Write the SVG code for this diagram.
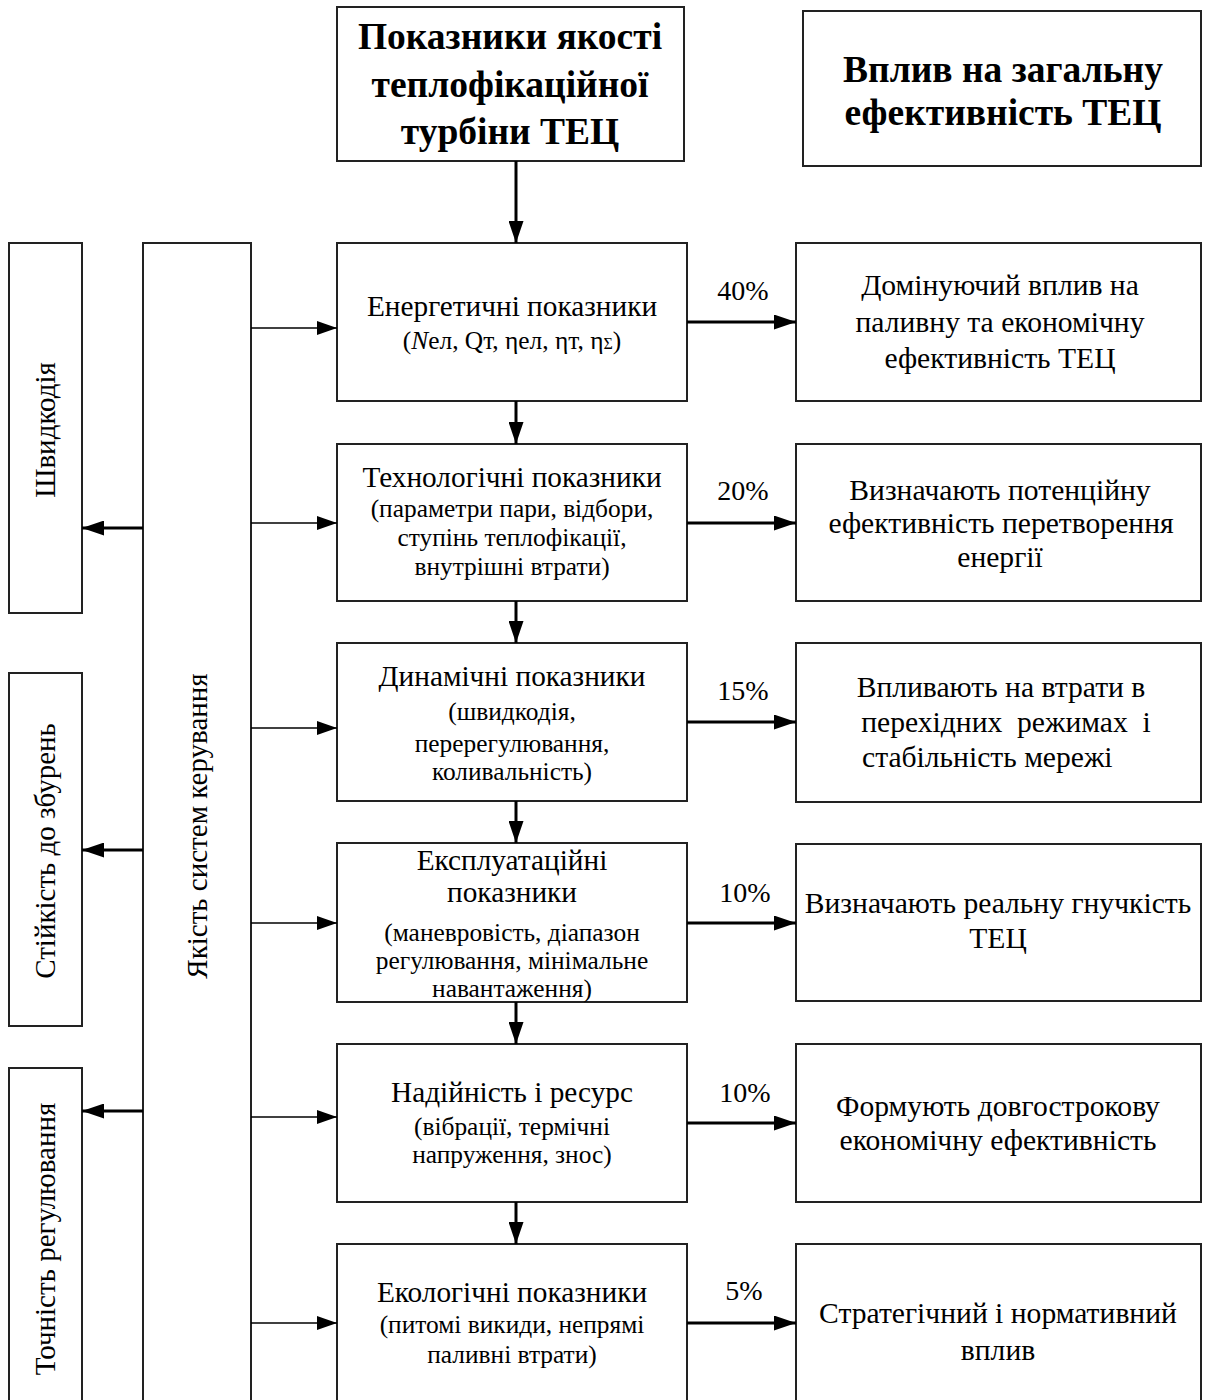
<svg xmlns="http://www.w3.org/2000/svg" width="1209" height="1400" viewBox="0 0 1209 1400">
<style>
.box{fill:#fff;stroke:#222;stroke-width:2}
.t{font-family:"Liberation Serif","Times New Roman",serif;fill:#000;text-anchor:middle}
.h{font-size:37.5px;font-weight:bold}
.ti{font-size:29.3px}
.st{font-size:25.4px}
.rt{font-size:29.6px}
.pc{font-size:28px}
.rot{font-size:29px}
.thick{stroke:#000;stroke-width:3;fill:none}
.thin{stroke:#000;stroke-width:1.5;fill:none}
</style>
<defs>
<marker id="ah" markerUnits="userSpaceOnUse" markerWidth="22" markerHeight="15" refX="22" refY="7.5" orient="auto">
<path d="M0,0 L22,7.5 L0,15 Z" fill="#000"/>
</marker>
<marker id="ahs" markerUnits="userSpaceOnUse" markerWidth="20" markerHeight="14" refX="20" refY="7" orient="auto">
<path d="M0,0 L20,7 L0,14 Z" fill="#000"/>
</marker>
</defs>

<g id="title-left">
<rect class="box" x="337" y="7" width="347" height="154"/>
<text class="t h" x="510" y="49">Показники якості</text>
<text class="t h" x="510" y="97">теплофікаційної</text>
<text class="t h" x="510" y="144">турбіни ТЕЦ</text>
</g>
<g id="title-right">
<rect class="box" x="803" y="11" width="398" height="155"/>
<text class="t h" x="1003" y="82">Вплив на загальну</text>
<text class="t h" x="1003" y="125">ефективність ТЕЦ</text>
</g>

<g id="left-speed">
<rect class="box" x="9" y="243" width="73" height="370"/>
<text class="t rot" transform="translate(55,430) rotate(-90)">Швидкодія</text>
</g>
<g id="left-stability">
<rect class="box" x="9" y="673" width="73" height="353"/>
<text class="t rot" transform="translate(55,851) rotate(-90)">Стійкість до збурень</text>
</g>
<g id="left-accuracy">
<rect class="box" x="9" y="1068" width="73" height="340"/>
<text class="t rot" transform="translate(55,1239) rotate(-90)">Точність регулювання</text>
</g>
<g id="control-quality">
<rect class="box" x="143" y="243" width="108" height="1165"/>
<text class="t rot" transform="translate(207,826) rotate(-90)">Якість систем керування</text>
</g>

<g id="energy">
<rect class="box" x="337" y="243" width="350" height="158"/>
<text class="t ti" x="512" y="316">Енергетичні показники</text>
<text class="t st" x="512" y="349">(<tspan font-style="italic">N</tspan>ел, Qт, ηел, ηт, η<tspan font-size="16">Σ</tspan>)</text>
</g>
<g id="technological">
<rect class="box" x="337" y="444" width="350" height="157"/>
<text class="t ti" x="512" y="487">Технологічні показники</text>
<text class="t st" x="512" y="517">(параметри пари, відбори,</text>
<text class="t st" x="512" y="546">ступінь теплофікації,</text>
<text class="t st" x="512" y="575">внутрішні втрати)</text>
</g>
<g id="dynamic">
<rect class="box" x="337" y="643" width="350" height="158"/>
<text class="t ti" x="512" y="686">Динамічні показники</text>
<text class="t st" x="512" y="720">(швидкодія,</text>
<text class="t st" x="512" y="752">перерегулювання,</text>
<text class="t st" x="512" y="780">коливальність)</text>
</g>
<g id="operational">
<rect class="box" x="337" y="843" width="350" height="159"/>
<text class="t ti" x="512" y="870">Експлуатаційні</text>
<text class="t ti" x="512" y="902">показники</text>
<text class="t st" x="512" y="941">(маневровість, діапазон</text>
<text class="t st" x="512" y="969">регулювання, мінімальне</text>
<text class="t st" x="512" y="997">навантаження)</text>
</g>
<g id="reliability">
<rect class="box" x="337" y="1044" width="350" height="158"/>
<text class="t ti" x="512" y="1102">Надійність і ресурс</text>
<text class="t st" x="512" y="1135">(вібрації, термічні</text>
<text class="t st" x="512" y="1163">напруження, знос)</text>
</g>
<g id="ecological">
<rect class="box" x="337" y="1244" width="350" height="164"/>
<text class="t ti" x="512" y="1302">Екологічні показники</text>
<text class="t st" x="512" y="1333">(питомі викиди, непрямі</text>
<text class="t st" x="512" y="1363">паливні втрати)</text>
</g>

<g id="impact-1">
<rect class="box" x="796" y="243" width="405" height="158"/>
<text class="t rt" x="1000" y="295">Домінуючий вплив на</text>
<text class="t rt" x="1000" y="332">паливну та економічну</text>
<text class="t rt" x="1000" y="368">ефективність ТЕЦ</text>
</g>
<g id="impact-2">
<rect class="box" x="796" y="444" width="405" height="157"/>
<text class="t rt" x="1000" y="500">Визначають потенційну</text>
<text class="t rt" x="1001" y="533">ефективність перетворення</text>
<text class="t rt" x="1000" y="567">енергії</text>
</g>
<g id="impact-3">
<rect class="box" x="796" y="643" width="405" height="159"/>
<text class="t rt" x="1001" y="697">Впливають на втрати в</text>
<text class="t rt" x="1006" y="732" xml:space="preserve">перехідних  режимах  і</text>
<text class="t rt" style="text-anchor:start" x="862" y="767">стабільність мережі</text>
</g>
<g id="impact-4">
<rect class="box" x="796" y="844" width="405" height="157"/>
<text class="t rt" x="998" y="913">Визначають реальну гнучкість</text>
<text class="t rt" x="998" y="948">ТЕЦ</text>
</g>
<g id="impact-5">
<rect class="box" x="796" y="1044" width="405" height="158"/>
<text class="t rt" x="998" y="1116">Формують довгострокову</text>
<text class="t rt" x="998" y="1150">економічну ефективність</text>
</g>
<g id="impact-6">
<rect class="box" x="796" y="1244" width="405" height="164"/>
<text class="t rt" x="998" y="1323">Стратегічний і нормативний</text>
<text class="t rt" x="998" y="1360">вплив</text>
</g>

<g id="connectors">
<line class="thick" x1="516" y1="161" x2="516" y2="243" marker-end="url(#ah)"/>
<line class="thick" x1="516" y1="401" x2="516" y2="444" marker-end="url(#ah)"/>
<line class="thick" x1="516" y1="601" x2="516" y2="643" marker-end="url(#ah)"/>
<line class="thick" x1="516" y1="801" x2="516" y2="843" marker-end="url(#ah)"/>
<line class="thick" x1="516" y1="1002" x2="516" y2="1044" marker-end="url(#ah)"/>
<line class="thick" x1="516" y1="1202" x2="516" y2="1244" marker-end="url(#ah)"/>

<line class="thick" x1="687" y1="322" x2="796" y2="322" marker-end="url(#ah)"/>
<line class="thick" x1="687" y1="523" x2="796" y2="523" marker-end="url(#ah)"/>
<line class="thick" x1="687" y1="722" x2="796" y2="722" marker-end="url(#ah)"/>
<line class="thick" x1="687" y1="923" x2="796" y2="923" marker-end="url(#ah)"/>
<line class="thick" x1="687" y1="1123" x2="796" y2="1123" marker-end="url(#ah)"/>
<line class="thick" x1="687" y1="1323" x2="796" y2="1323" marker-end="url(#ah)"/>

<line class="thin" x1="251" y1="328" x2="337" y2="328" marker-end="url(#ahs)"/>
<line class="thin" x1="251" y1="523" x2="337" y2="523" marker-end="url(#ahs)"/>
<line class="thin" x1="251" y1="728" x2="337" y2="728" marker-end="url(#ahs)"/>
<line class="thin" x1="251" y1="923" x2="337" y2="923" marker-end="url(#ahs)"/>
<line class="thin" x1="251" y1="1117" x2="337" y2="1117" marker-end="url(#ahs)"/>
<line class="thin" x1="251" y1="1323" x2="337" y2="1323" marker-end="url(#ahs)"/>

<line class="thick" x1="143" y1="528" x2="82" y2="528" marker-end="url(#ah)"/>
<line class="thick" x1="143" y1="850" x2="82" y2="850" marker-end="url(#ah)"/>
<line class="thick" x1="143" y1="1111" x2="82" y2="1111" marker-end="url(#ah)"/>

<text class="t pc" x="743" y="300">40%</text>
<text class="t pc" x="743" y="500">20%</text>
<text class="t pc" x="743" y="700">15%</text>
<text class="t pc" x="745" y="902">10%</text>
<text class="t pc" x="745" y="1102">10%</text>
<text class="t pc" x="744" y="1300">5%</text>
</g>
</svg>
